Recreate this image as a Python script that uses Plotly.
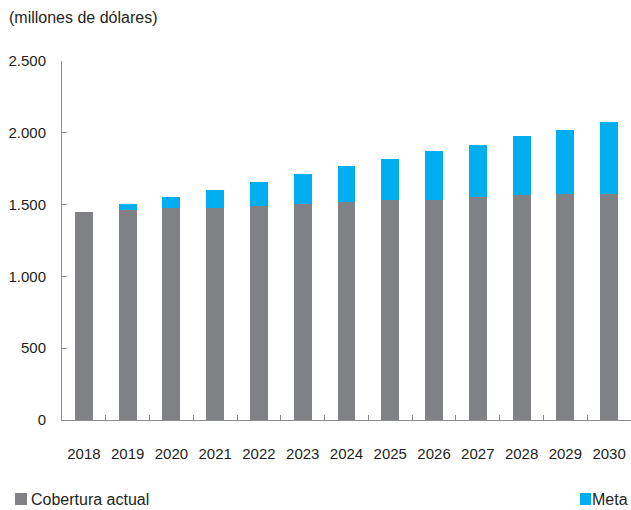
import plotly.graph_objects as go

years = ["2018", "2019", "2020", "2021", "2022", "2023", "2024",
         "2025", "2026", "2027", "2028", "2029", "2030"]
cobertura = [1450, 1465, 1475, 1475, 1490, 1505, 1520, 1535, 1535, 1550, 1565, 1575, 1575]
meta = [0, 40, 75, 130, 165, 205, 250, 280, 335, 365, 410, 445, 500]
y_ticks = [0, 500, 1000, 1500, 2000, 2500]

W, H = 631, 510
L, R, T, B = 62, 0, 61, 90
pw, ph = W - L - R, H - T - B

def px(x):
    return (x - L) / pw

def py(y):
    return (H - B - y) / ph

GRAY = "#808184"
BLUE = "#00aeef"
TXT = "#231f20"
AX = "#8c8c8c"
FONT = "Liberation Sans, Arial, sans-serif"

fig = go.Figure()
fig.add_trace(go.Bar(x=years, y=cobertura, name="Cobertura actual",
                     marker=dict(color=GRAY, line=dict(width=0))))
fig.add_trace(go.Bar(x=years, y=meta, name="Meta",
                     marker=dict(color=BLUE, line=dict(width=0))))

fig.update_layout(
    width=W, height=H,
    margin=dict(l=L, r=R, t=T, b=B, pad=0),
    barmode="stack", bargap=0.59,
    showlegend=False,
    separators=",.",
    plot_bgcolor="white", paper_bgcolor="white",
    font=dict(family=FONT, size=15, color=TXT),
    xaxis=dict(type="category", showline=True, linecolor=AX, linewidth=1,
               ticks="inside", tickson="boundaries", ticklen=5, tickcolor=AX,
               showgrid=False, ticklabelstandoff=20,
               tickfont=dict(size=15, color=TXT)),
    yaxis=dict(range=[0, 2500], tickvals=y_ticks, tickformat=",d",
               showline=True, linecolor=AX, linewidth=1,
               ticks="inside", ticklen=5, tickcolor=AX,
               showgrid=False, zeroline=False, ticklabelstandoff=12,
               tickfont=dict(size=15, color=TXT)),
    shapes=[
        dict(type="rect", xref="paper", yref="paper",
             x0=px(15), x1=px(27), y0=py(493), y1=py(505),
             fillcolor=GRAY, line=dict(width=0)),
        dict(type="rect", xref="paper", yref="paper",
             x0=px(580), x1=px(591), y0=py(493), y1=py(505),
             fillcolor=BLUE, line=dict(width=0)),
    ],
    annotations=[
        dict(text="(millones de dólares)", xref="paper", yref="paper",
             x=px(7), y=py(17), xanchor="left", yanchor="middle",
             showarrow=False, font=dict(size=16, color=TXT)),
        dict(text="Cobertura actual", xref="paper", yref="paper",
             x=px(29), y=py(499), xanchor="left", yanchor="middle",
             showarrow=False, font=dict(size=16, color=TXT)),
        dict(text="Meta", xref="paper", yref="paper",
             x=px(630), y=py(499), xanchor="right", yanchor="middle",
             showarrow=False, font=dict(size=16, color=TXT)),
    ],
)

fig.write_html("out.html")
